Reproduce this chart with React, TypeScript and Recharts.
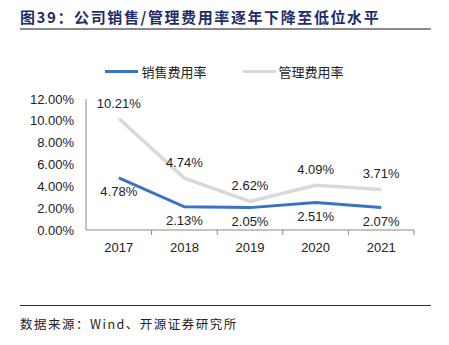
import { LineChart, Line, XAxis, YAxis, LabelList } from 'recharts'

const years = ['2017', '2018', '2019', '2020', '2021']
const salesRate = [4.78, 2.13, 2.05, 2.51, 2.07]
const adminRate = [10.21, 4.74, 2.62, 4.09, 3.71]
const yTicks = [0, 2, 4, 6, 8, 10, 12]

const data = years.map((year, i) => ({ year, sales: salesRate[i], admin: adminRate[i] }))

const BLUE = '#3A72C4'
const GREY = '#D9D9D9'
const NUM_FONT = '"Liberation Sans", Arial, sans-serif'
const CJK_FONT = '"Noto Sans CJK SC", "Noto Sans", sans-serif'

const pct = (v: number) => `${v.toFixed(2)}%`

function XTick(props: any) {
    const { x, y, payload } = props
    const half = payload?.offset ?? 0
    const axisY = y - 8
    return (
        <g>
            <line x1={x + half} x2={x + half} y1={axisY} y2={axisY + 5} stroke="#888" />
            <text x={x} y={y + 4} dy="0.75em" textAnchor="middle" fontSize={13} fill="#222" fontFamily={NUM_FONT}>
                {payload.value}
            </text>
        </g>
    )
}

function LegendBox() {
    const items = [
        { name: '销售费用率', color: BLUE },
        { name: '管理费用率', color: GREY },
    ]
    return (
        <div style={{ display: 'flex', justifyContent: 'center', gap: 36, fontFamily: CJK_FONT, fontSize: 13, color: '#222' }}>
            {items.map((it) => (
                <div key={it.name} style={{ display: 'flex', alignItems: 'center' }}>
                    <span style={{ display: 'inline-block', width: 33, height: 3, background: it.color, marginRight: 3 }} />
                    <span>{it.name}</span>
                </div>
            ))}
        </div>
    )
}

export default function App() {
    return (
        <div style={{ position: 'absolute', left: 0, top: 0, width: 449, height: 345, background: '#fff' }}>
            <div
                style={{
                    position: 'absolute', left: 20, top: 6, fontFamily: CJK_FONT, fontWeight: 700,
                    fontSize: 15, letterSpacing: 1.6, color: '#1F2D6B', whiteSpace: 'nowrap',
                }}
            >
                图39：公司销售/管理费用率逐年下降至低位水平
            </div>
            <div style={{ position: 'absolute', left: 20, top: 28, width: 411, height: 1.5, background: '#8a8a8a' }} />

            <div style={{ position: 'absolute', left: 0, top: 62, width: 449 }}>
                <LegendBox />
            </div>

            <div style={{ position: 'absolute', left: 0, top: 0 }}>
                <LineChart width={449} height={345} data={data} margin={{ top: 99, right: 35, bottom: 85, left: 0 }}>
                    <XAxis
                        dataKey="year"
                        scale="band"
                        height={30}
                        axisLine={{ stroke: '#888' }}
                        tickLine={false}
                        tick={<XTick />}
                        interval={0}
                    />
                    <YAxis
                        width={86}
                        domain={[0, 12]}
                        ticks={yTicks}
                        tickFormatter={pct}
                        axisLine={{ stroke: '#888' }}
                        tickLine={false}
                        tickMargin={6}
                        tick={{ fontSize: 13, fill: '#222', fontFamily: NUM_FONT }}
                        interval={0}
                    />
                    <Line
                        dataKey="admin"
                        name="管理费用率"
                        stroke={GREY}
                        strokeWidth={3.5}
                        dot={false}
                        isAnimationActive={false}
                    >
                        <LabelList dataKey="admin" position="top" offset={11} formatter={(v: any) => pct(Number(v))} fontSize={13} fill="#222" fontFamily={NUM_FONT} />
                    </Line>
                    <Line
                        dataKey="sales"
                        name="销售费用率"
                        stroke={BLUE}
                        strokeWidth={3}
                        dot={false}
                        isAnimationActive={false}
                    >
                        <LabelList dataKey="sales" position="bottom" offset={9} formatter={(v: any) => pct(Number(v))} fontSize={13} fill="#222" fontFamily={NUM_FONT} />
                    </Line>
                </LineChart>
            </div>

            <div style={{ position: 'absolute', left: 20, top: 305, width: 411, height: 1, background: '#333' }} />
            <div
                style={{
                    position: 'absolute', left: 20, top: 314, fontFamily: CJK_FONT, fontSize: 12.5,
                    letterSpacing: 1.5, color: '#222', whiteSpace: 'nowrap',
                }}
            >
                数据来源：Wind、开源证券研究所
            </div>
        </div>
    )
}
